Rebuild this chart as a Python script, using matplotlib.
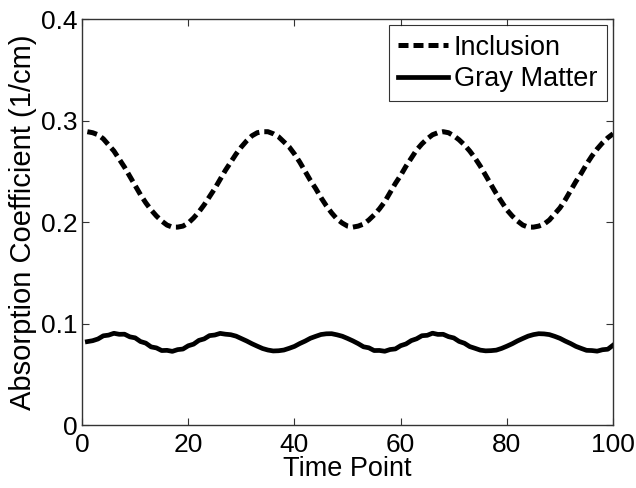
import numpy as np
import matplotlib
matplotlib.use("Agg")
import matplotlib.pyplot as plt
from matplotlib.ticker import FuncFormatter

plt.rcParams["font.family"] = ["Liberation Sans", "DejaVu Sans"]

time_point = np.arange(1, 101)

inclusion = [
    0.289, 0.288, 0.286, 0.282, 0.276, 0.270, 0.262, 0.254, 0.245, 0.236,
    0.227, 0.219, 0.212, 0.206, 0.201, 0.197, 0.195, 0.195, 0.196, 0.199,
    0.204, 0.210, 0.217, 0.225, 0.233, 0.242, 0.251, 0.259, 0.267, 0.274,
    0.280, 0.285, 0.288, 0.289, 0.289, 0.287, 0.284, 0.279, 0.274, 0.267,
    0.259, 0.250, 0.241, 0.233, 0.224, 0.216, 0.209, 0.203, 0.199, 0.196,
    0.195, 0.196, 0.198, 0.202, 0.207, 0.213, 0.220, 0.229, 0.238, 0.246,
    0.255, 0.263, 0.271, 0.277, 0.282, 0.286, 0.288, 0.289, 0.288, 0.285,
    0.281, 0.276, 0.270, 0.263, 0.255, 0.246, 0.237, 0.228, 0.220, 0.212,
    0.206, 0.201, 0.197, 0.195, 0.195, 0.196, 0.198, 0.202, 0.208, 0.214,
    0.222, 0.231, 0.240, 0.248, 0.257, 0.265, 0.272, 0.278, 0.283, 0.287,
]

gray_matter = [
    0.0822, 0.0831, 0.0848, 0.0879, 0.0886, 0.0904, 0.0894, 0.0895, 0.0869, 0.0859,
    0.0823, 0.0807, 0.0770, 0.0760, 0.0734, 0.0736, 0.0726, 0.0743, 0.0749, 0.0781,
    0.0797, 0.0834, 0.0849, 0.0881, 0.0887, 0.0903, 0.0895, 0.0890, 0.0876, 0.0852,
    0.0828, 0.0801, 0.0777, 0.0754, 0.0739, 0.0730, 0.0732, 0.0739, 0.0756, 0.0775,
    0.0803, 0.0827, 0.0855, 0.0874, 0.0892, 0.0899, 0.0900, 0.0889, 0.0875, 0.0853,
    0.0829, 0.0802, 0.0771, 0.0761, 0.0734, 0.0735, 0.0727, 0.0744, 0.0750, 0.0782,
    0.0799, 0.0832, 0.0850, 0.0880, 0.0884, 0.0905, 0.0893, 0.0894, 0.0871, 0.0858,
    0.0824, 0.0806, 0.0773, 0.0756, 0.0738, 0.0731, 0.0733, 0.0738, 0.0755, 0.0777,
    0.0801, 0.0829, 0.0853, 0.0876, 0.0891, 0.0900, 0.0898, 0.0891, 0.0874, 0.0854,
    0.0827, 0.0803, 0.0775, 0.0755, 0.0736, 0.0734, 0.0728, 0.0742, 0.0747, 0.0787,
]

x_ticks = [0, 20, 40, 60, 80, 100]
y_ticks = [0, 0.1, 0.2, 0.3, 0.4]

fig = plt.figure(figsize=(6.36, 4.88), dpi=100)
ax = fig.add_axes([0.129, 0.129, 0.835, 0.832])

ax.plot(time_point, inclusion, color="black", linewidth=3.6,
        linestyle=(0, (2, 1)), label="Inclusion")
ax.plot(time_point, gray_matter, color="black", linewidth=3.4,
        label="Gray Matter")

ax.set_xlim(0, 100)
ax.set_ylim(0, 0.4)
ax.set_xticks(x_ticks)
ax.set_yticks(y_ticks)
ax.yaxis.set_major_formatter(FuncFormatter(lambda v, p: "0" if v == 0 else f"{v:g}"))

ax.tick_params(direction="in", length=5, width=0.8, top=True, right=True,
               labelsize=19, color="#333333")
ax.tick_params(axis="x", pad=6)
ax.tick_params(axis="y", pad=3)
for s in ax.spines.values():
    s.set_linewidth(1.0)
    s.set_color("#333333")

ax.set_xlabel("Time Point", fontsize=19.5, labelpad=-1)
ax.set_ylabel("Absorption Coefficient (1/cm)", fontsize=21, labelpad=3)

leg = ax.legend(loc="upper right", bbox_to_anchor=(0.988, 0.985), fontsize=19.5,
                frameon=True, fancybox=False, handlelength=1.85,
                handletextpad=0.2, borderpad=0.35, labelspacing=0.2,
                borderaxespad=0)
leg.get_frame().set_edgecolor("black")
leg.get_frame().set_linewidth(0.8)

fig.savefig("out.png", dpi=100)
